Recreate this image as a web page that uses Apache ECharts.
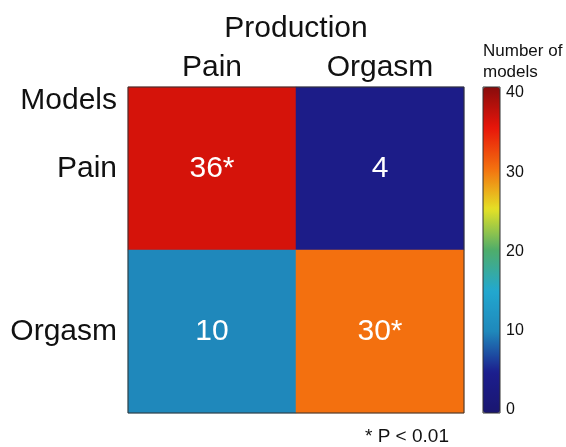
<!DOCTYPE html>
<html>
<head>
<meta charset="utf-8">
<script src="https://cdn.jsdelivr.net/npm/echarts@6/dist/echarts.min.js"></script>
<style>
html,body{margin:0;padding:0;background:#fff;}
#chart{width:566px;height:447px;}
</style>
</head>
<body>
<div id="chart"></div>
<script>
// ---- data ----
const productionCategories = ['Pain', 'Orgasm'];
const modelCategories = ['Pain', 'Orgasm'];
// rows: models, cols: production
const modelCounts = [
  [36, 4],
  [10, 30]
];
const significant = [
  [true, false],
  [false, true]
];
const colorbarTicks = [0, 10, 20, 30, 40];

// ---- build ----
const FONT = 'Liberation Sans, Arial, sans-serif';
const heatData = [];
modelCounts.forEach((row, r) => {
  row.forEach((v, c) => {
    heatData.push([c, r, v, significant[r][c] ? v + '*' : String(v)]);
  });
});

const chart = echarts.init(document.getElementById('chart'), null, {renderer: 'canvas'});
chart.setOption({
  animation: false,
  backgroundColor: '#fff',
  textStyle: {fontFamily: FONT},
  grid: [
    {left: 128, top: 87, width: 336, height: 326, show: false, containLabel: false, outerBoundsMode: 'none'},
    {left: 483, top: 93, width: 17, height: 317, show: false, containLabel: false, outerBoundsMode: 'none'}
  ],
  xAxis: [
    {
      gridIndex: 0,
      type: 'category',
      data: productionCategories,
      position: 'top',
      name: 'Production',
      nameLocation: 'middle',
      nameGap: 43,
      nameMoveOverlap: false,
      nameTextStyle: {fontSize: 30, color: '#111', fontFamily: FONT},
      axisLine: {show: false},
      axisTick: {show: false},
      axisLabel: {fontSize: 30, color: '#111', margin: 4, fontFamily: FONT},
      splitLine: {show: false}
    },
    {gridIndex: 1, type: 'value', show: false, min: 0, max: 1}
  ],
  yAxis: [
    {
      gridIndex: 0,
      type: 'category',
      data: modelCategories,
      inverse: true,
      axisLine: {show: false},
      axisTick: {show: false},
      axisLabel: {fontSize: 30, color: '#111', margin: 11, fontFamily: FONT},
      splitLine: {show: false}
    },
    {
      gridIndex: 1,
      type: 'value',
      position: 'right',
      min: 0,
      max: 40,
      interval: 10,
      axisLine: {show: false},
      axisTick: {show: false},
      splitLine: {show: false},
      axisLabel: {fontSize: 16, color: '#111', margin: 6, fontFamily: FONT,
        formatter: v => colorbarTicks.indexOf(v) >= 0 ? String(v) : ''}
    }
  ],
  visualMap: {
    type: 'continuous',
    min: 0,
    max: 40,
    seriesIndex: 0,
    dimension: 2,
    calculable: false,
    hoverLink: false,
    orient: 'vertical',
    left: 483,
    top: 87,
    padding: 0,
    itemWidth: 17,
    itemHeight: 326,
    text: null,
    showLabel: false,
    inRange: {
      color: ['#1a1670', '#1c1e8e', '#1f88bb', '#22a8cf', '#4fad6a', '#e4e126', '#f3700f', '#e8150a', '#880c0c']
    }
  },
  series: [{
    type: 'heatmap',
    xAxisIndex: 0,
    yAxisIndex: 0,
    data: heatData,
    encode: {x: 0, y: 1, value: 2},
    label: {
      show: true,
      color: '#fff',
      fontSize: 30,
      fontFamily: FONT,
      formatter: p => p.data[3]
    },
    itemStyle: {borderWidth: 0}
  }],
  graphic: [
    {type: 'rect', shape: {x: 128, y: 87, width: 336, height: 326}, style: {fill: 'none', stroke: '#333', lineWidth: 1}, z: 100},
    {type: 'rect', shape: {x: 483, y: 87, width: 17, height: 326}, style: {fill: 'none', stroke: '#333', lineWidth: 1}, z: 100},
    {type: 'text', style: {x: 117, y: 101, text: 'Models', align: 'right', verticalAlign: 'middle', fill: '#111', font: '30px ' + FONT}},
    {type: 'text', style: {x: 483, y: 51, text: 'Number of', align: 'left', verticalAlign: 'middle', fill: '#111', font: '17px ' + FONT}},
    {type: 'text', style: {x: 483, y: 72, text: 'models', align: 'left', verticalAlign: 'middle', fill: '#111', font: '17px ' + FONT}},
    {type: 'text', style: {x: 365, y: 437, text: '* P < 0.01', align: 'left', verticalAlign: 'middle', fill: '#111', font: '19px ' + FONT}}
  ]
});
</script>
</body>
</html>
